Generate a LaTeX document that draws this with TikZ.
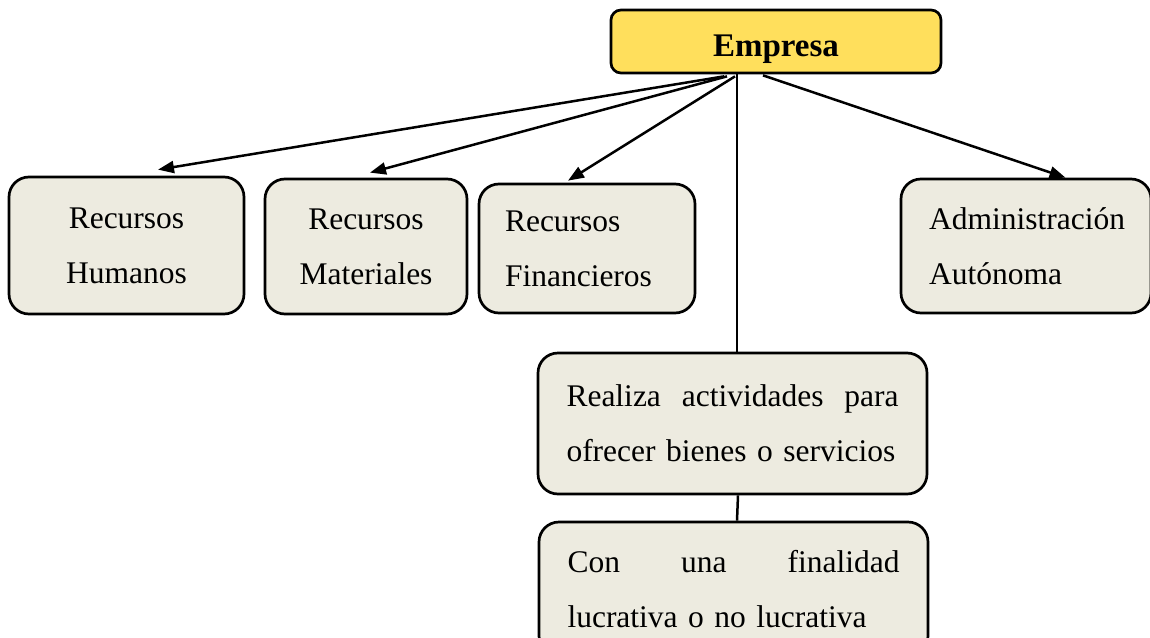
\documentclass[tikz,border=0pt]{standalone}
\usepackage{fontspec}
\setmainfont{Liberation Serif}
\usetikzlibrary{arrows.meta}
\definecolor{boxfill}{RGB}{237,235,224}
\definecolor{empfill}{RGB}{255,223,92}
\tikzset{
  bx/.style={draw=black, line width=2.7pt, fill=boxfill, rounded corners=20pt, inner sep=0pt,
    font=\fontsize{31.5}{55}\selectfont},
  con/.style={line width=2.5pt, draw=black},
  arr/.style={con, -{Triangle[length=16pt,width=12pt]}},
}
\begin{document}
\begin{tikzpicture}[x=1pt,y=-1pt]
\useasboundingbox (0,0) rectangle (1150,637);
\begin{scope}
\clip (0,0) rectangle (1150,637);
\node[bx, fill=empfill, rounded corners=10pt, minimum width=330pt, minimum height=63pt,
  text height=30pt, text depth=1pt,
  font=\fontsize{33}{36}\selectfont\bfseries] (emp) at (776,41.5) {Empresa};
\node[bx, minimum width=235pt, minimum height=137pt, align=center] (rh) at (126.5,245.5) {Recursos\\Humanos};
\node[bx, minimum width=202pt, minimum height=135pt, align=center] (rm) at (366,246.5) {Recursos\\Materiales};
\node[bx, minimum width=216pt, minimum height=129pt, text width=164pt, align=left] (rf) at (587,248.5) {Recursos\\Financieros};
\node[bx, minimum width=250pt, minimum height=134pt, text width=194pt, align=left] (aa) at (1026,246) {Administración\\Autónoma};
\node[bx, minimum width=389pt, minimum height=141pt, text width=332pt, align=left] (re) at (732.5,423.5)
  {Realiza\hfill actividades\hfill para\\ofrecer bienes o servicios};
\node[bx, minimum width=389pt, minimum height=134pt, text width=332pt, align=left] (cu) at (733.5,589)
  {Con\hfill una\hfill finalidad\\lucrativa o no lucrativa};
\draw[arr] ([xshift=-52pt,yshift=-2pt]emp.south) -- ([xshift=31.5pt,yshift=6pt]rh.north);
\draw[arr] ([xshift=-49pt,yshift=-2pt]emp.south) -- ([xshift=4pt,yshift=5pt]rm.north);
\draw[arr] ([xshift=-41pt,yshift=-2pt]emp.south) -- ([xshift=-19pt,yshift=2pt]rf.north);
\draw[arr] ([xshift=-13pt,yshift=-1pt]emp.south) -- ([xshift=39.5pt,yshift=0pt]aa.north);
\draw[con] ([xshift=-39pt]emp.south) -- ([xshift=4.5pt]re.north);
\draw[con] ([xshift=5.5pt]re.south) -- ([xshift=3.5pt]cu.north);
\end{scope}
\end{tikzpicture}
\end{document}
